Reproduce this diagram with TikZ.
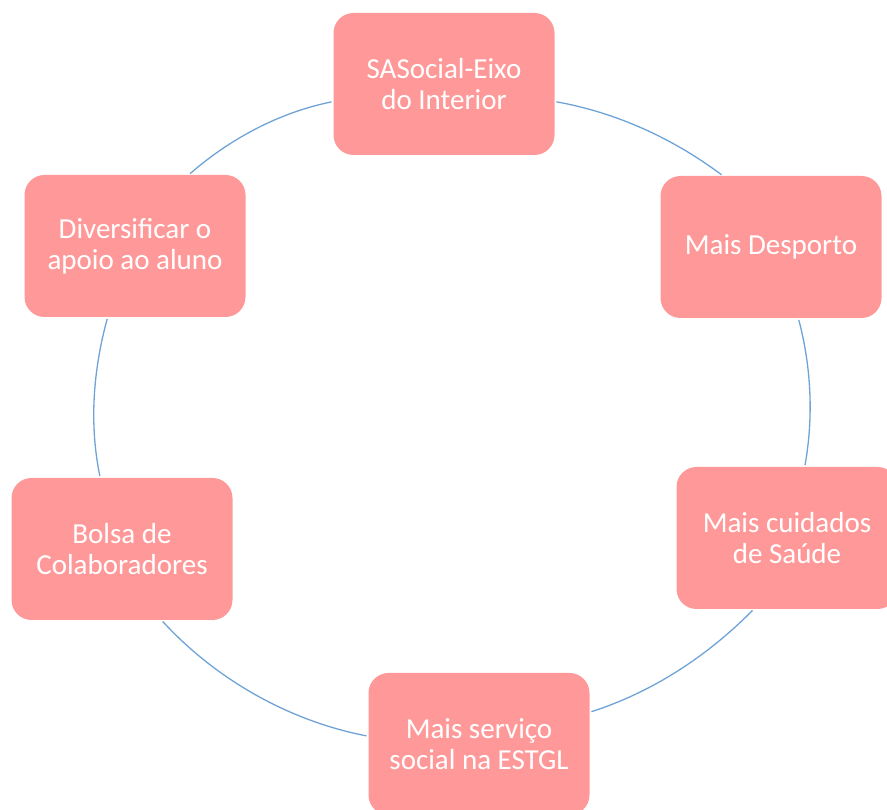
\documentclass[tikz,border=0pt]{standalone}
\usepackage{fontspec}
\setmainfont{Carlito}
\begin{document}
\begin{tikzpicture}[x=1pt,y=1pt,
  item/.style={fill=boxfill, draw=none, rounded corners=20pt, minimum width=221pt,
    minimum height=142pt, inner sep=0pt, outer sep=0pt, align=center, text=white,
    font=\fontsize{29}{31}\selectfont},
  arc/.style={draw=arcblue, line width=1.3pt, looseness=0.87, shorten <=2pt, shorten >=2pt}]
\definecolor{boxfill}{HTML}{FF9999}
\definecolor{arcblue}{HTML}{6FA3D8}
\useasboundingbox (0,0) rectangle (887,810);
\begin{scope}
\clip (0,0) rectangle (887,810);
\node[item] (top) at (444,726) {SASocial-Eixo\\do Interior};
\node[item] (desp) at (771,563) {Mais Desporto};
\node[item] (cuid) at (787,272) {Mais cuidados\\de Saúde};
\node[item] (serv) at (479,66) {Mais serviço\\social na ESTGL};
\node[item] (bolsa) at (122,261) {Bolsa de\\Colaboradores};
\node[item] (div) at (135,564) {Diversificar o\\apoio ao aluno};
\draw[arc] (div.53) to[out=41,in=191.4] (top.189.6);
\draw[arc] (top.-9.4) to[out=-10.1,in=143.1] (desp.124.6);
\draw[arc] (desp.-69) to[out=-75.1,in=79.9] (cuid.76);
\draw[arc] (cuid.-115) to[out=225.4,in=17.8] (serv.16);
\draw[arc] (serv.176.5) to[out=169.1,in=-47.5] (bolsa.-61);
\draw[arc] (bolsa.107) to[out=101.8,in=254.6] (div.-111.5);
\end{scope}
\end{tikzpicture}
\end{document}
